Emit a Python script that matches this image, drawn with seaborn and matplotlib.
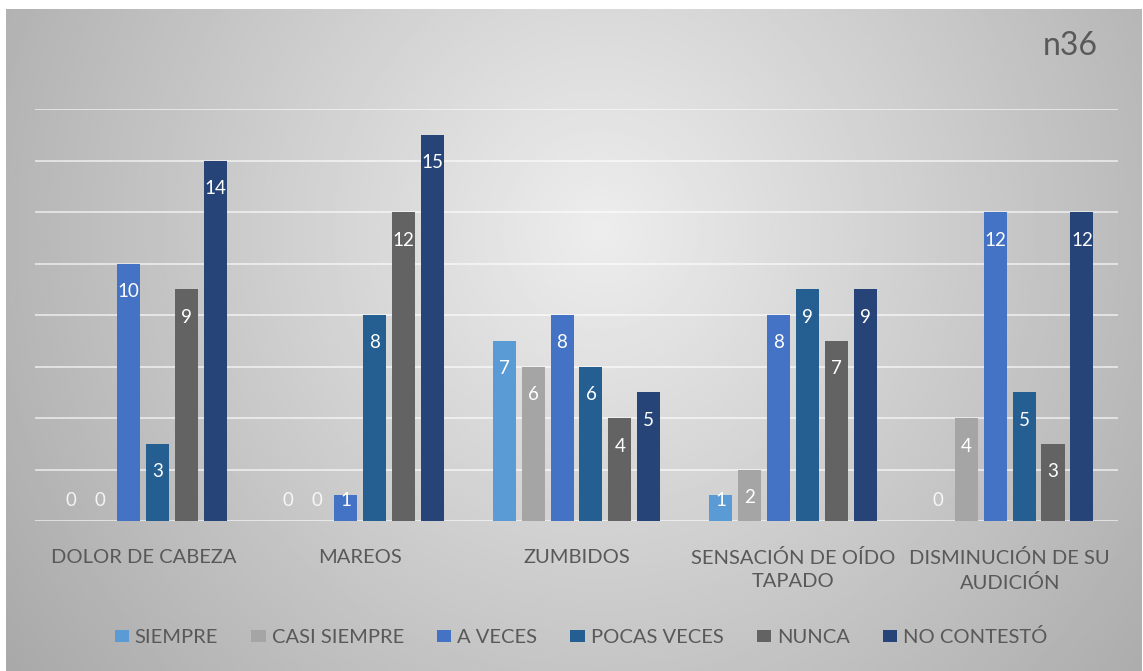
import numpy as np
import pandas as pd
import matplotlib
matplotlib.use("Agg")
import matplotlib.pyplot as plt
from matplotlib.patches import Patch
import seaborn as sns

categories = ["DOLOR DE CABEZA", "MAREOS", "ZUMBIDOS",
              "SENSACIÓN DE OÍDO\nTAPADO", "DISMINUCIÓN DE SU\nAUDICIÓN"]
series = ["SIEMPRE", "CASI SIEMPRE", "A VECES", "POCAS VECES", "NUNCA", "NO CONTESTÓ"]
siempre = [0, 0, 7, 1, 0]
casi_siempre = [0, 0, 6, 2, 4]
a_veces = [10, 1, 8, 8, 12]
pocas_veces = [3, 8, 6, 9, 5]
nunca = [9, 12, 4, 7, 3]
no_contesto = [14, 15, 5, 9, 12]
colors = ["#5B9BD5", "#A5A5A5", "#4472C4", "#255E91", "#636363", "#264478"]
note = "n36"

values = [siempre, casi_siempre, a_veces, pocas_veces, nunca, no_contesto]
rows = []
for s, vals in zip(series, values):
    for c, v in zip(categories, vals):
        rows.append({"cat": c, "serie": s, "val": v})
df = pd.DataFrame(rows)

sns.set_theme(style="white")
plt.rcParams["font.family"] = ["Lato", "DejaVu Sans"]

W, H = 1143, 671
fig = plt.figure(figsize=(W / 100, H / 100), dpi=100)
fig.patch.set_facecolor("white")

# background gradient for chart area
bx0, bx1, by0, by1 = 6, 1142, 9, 671
bg = fig.add_axes([bx0 / W, 1 - by1 / H, (bx1 - bx0) / W, (by1 - by0) / H], zorder=0)
xx, yy = np.meshgrid(np.linspace(bx0, bx1, 400), np.linspace(by0, by1, 240))
d = np.sqrt(((xx - 600) / 680) ** 2 + ((yy - 230) / 700) ** 2)
g = np.clip(0.93 - 0.25 * d, 0, 1)
bg.imshow(g, cmap="gray", vmin=0, vmax=1, aspect="auto", extent=[0, 1, 0, 1],
          interpolation="bilinear")
bg.set_axis_off()

ax = fig.add_axes([35 / W, 1 - 521 / H, (1118 - 35) / W, (521 - 109) / H], zorder=1)
ax.patch.set_alpha(0)
sns.barplot(data=df, x="cat", y="val", hue="serie", order=categories,
            hue_order=series, palette=colors, width=0.8, gap=0.2,
            saturation=1, ax=ax, legend=False, zorder=3, linewidth=0,
            edgecolor="none")
ax.set_ylim(0, 16)
ax.set_xlim(-0.5, len(categories) - 0.5)
ax.set_yticks(np.arange(0, 17, 2))
ax.yaxis.grid(True, color="white", lw=1.1, alpha=0.75, zorder=0)
ax.set_axisbelow(True)
ax.tick_params(axis="y", left=False, labelleft=False)
ax.tick_params(axis="x", bottom=False, pad=14, labelsize=14.5, labelcolor="#595959")
for lab in ax.get_xticklabels():
    lab.set_linespacing(1.45)
ax.set_xlabel("")
ax.set_ylabel("")
for sp in ax.spines.values():
    sp.set_visible(False)

fig.canvas.draw()
ppu = ax.transData.transform((0, 1))[1] - ax.transData.transform((0, 0))[1]
for cont in ax.containers:
    for bar in cont:
        v = bar.get_height()
        xc = bar.get_x() + bar.get_width() / 2
        off_px = max(v * ppu - 28, 21)
        ax.annotate(f"{int(round(v))}", xy=(xc, 0), xytext=(0, off_px * 0.72),
                    textcoords="offset points", ha="center", va="center",
                    color="white", alpha=0.85 if v == 0 else 1.0,
                    fontsize=13.5, zorder=5)

handles = [Patch(facecolor=c, edgecolor="none") for c in colors]
fig.legend(handles, series, loc="center", bbox_to_anchor=(581 / W, 1 - 637 / H),
           ncol=6, frameon=False, fontsize=14.5, labelcolor="#595959",
           handlelength=0.7, handleheight=0.6, handletextpad=0.3,
           columnspacing=1.65)

fig.text(1070 / W, 1 - 46 / H, note, ha="center", va="center",
         fontsize=23, color="#595959")

fig.savefig("out.png", dpi=100)
